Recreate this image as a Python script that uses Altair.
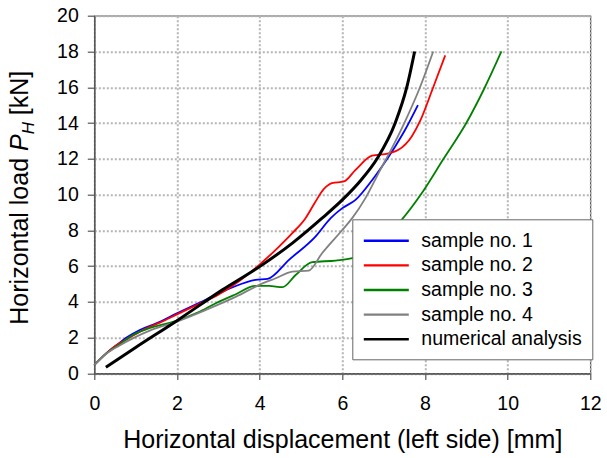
import altair as alt
import pandas as pd

# ---- data ----
s1_x = [0, 0.29, 0.55, 0.81, 1.1, 1.5, 2.0, 2.5, 2.94, 3.35, 3.9, 4.19, 4.71, 5.35, 5.72, 6.0, 6.32, 6.72, 6.96, 7.28, 7.52, 7.83]
s1_y = [0.47, 1.12, 1.6, 2.05, 2.43, 2.8, 3.36, 3.9, 4.39, 4.82, 5.23, 5.28, 6.35, 7.65, 8.68, 9.24, 9.7, 10.8, 11.57, 12.69, 13.62, 15.0]

s2_x = [0, 0.29, 0.55, 0.85, 1.2, 1.6, 2.0, 2.5, 3.0, 3.5, 3.99, 4.47, 4.79, 5.11, 5.35, 5.55, 5.75, 6.04, 6.32, 6.72, 7.12, 7.36, 7.68, 7.88, 8.2, 8.49]
s2_y = [0.47, 1.12, 1.6, 2.0, 2.45, 2.85, 3.3, 3.85, 4.4, 5.15, 6.07, 7.09, 7.84, 8.68, 9.6, 10.3, 10.64, 10.73, 11.38, 12.17, 12.3, 12.5, 13.25, 14.1, 16.0, 17.78]

s3_x = [0, 0.29, 0.6, 0.93, 1.3, 2.0, 2.5, 2.94, 3.4, 3.9, 4.23, 4.55, 4.87, 5.27, 5.84, 6.24, 6.8, 7.44, 7.9, 8.45, 9.0, 9.45, 9.85]
s3_y = [0.47, 1.12, 1.6, 2.15, 2.5, 2.95, 3.4, 3.92, 4.4, 4.89, 4.89, 4.82, 5.5, 6.22, 6.31, 6.44, 7.2, 8.6, 10.0, 12.0, 14.0, 16.0, 18.0]

s4_x = [0, 0.29, 0.6, 0.93, 1.4, 2.0, 2.7, 3.43, 3.99, 4.39, 4.79, 5.19, 5.51, 6.0, 6.24, 6.56, 6.9, 7.2, 7.5, 7.88, 8.2]
s4_y = [0.47, 1.1, 1.55, 1.96, 2.45, 2.9, 3.55, 4.29, 4.95, 5.32, 5.69, 5.75, 6.72, 8.02, 8.68, 9.8, 11.3, 12.6, 14.0, 16.0, 18.0]

num_x = [0.28, 1.0, 2.0, 3.1, 4.0, 4.8, 5.51, 6.0, 6.45, 6.84, 7.28, 7.56, 7.75]
num_y = [0.34, 1.45, 2.95, 4.67, 5.97, 7.3, 8.68, 9.7, 10.8, 12.0, 14.0, 16.0, 18.0]

series_names = ["sample no. 1", "sample no. 2", "sample no. 3", "sample no. 4", "numerical analysis"]
series_colors = ["#0000FF", "#FF0000", "#008000", "#808080", "#000000"]

x_ticks = [0, 2, 4, 6, 8, 10, 12]
y_ticks = [0, 2, 4, 6, 8, 10, 12, 14, 16, 18, 20]

rows = []
for name, xs, ys in zip(series_names,
                        [s1_x, s2_x, s3_x, s4_x, num_x],
                        [s1_y, s2_y, s3_y, s4_y, num_y]):
    for i, (xv, yv) in enumerate(zip(xs, ys)):
        rows.append({"series": name, "x": xv, "y": yv, "order": i})
df = pd.DataFrame(rows)

W = 496
H = 357.7
LEFT = 94.3
TOP = 15.7
FONT = "Liberation Sans"
TF = 25

lines = alt.Chart(df).mark_line(interpolate="monotone").encode(
    x=alt.X("x:Q", scale=alt.Scale(domain=[0, 12], nice=False),
            axis=alt.Axis(values=x_ticks, title="Horizontal displacement (left side) [mm]",
                          titleX=248, titleY=74.5, titleBaseline="alphabetic",
                          titleAlign="center", labelFlush=False)),
    y=alt.Y("y:Q", scale=alt.Scale(domain=[0, 20], nice=False),
            axis=alt.Axis(values=y_ticks, title=None, labelFlush=False)),
    color=alt.Color("series:N", sort=series_names,
                    scale=alt.Scale(domain=series_names, range=series_colors),
                    legend=alt.Legend(title=None)),
    strokeWidth=alt.condition(alt.datum.series == "numerical analysis",
                              alt.value(3.0), alt.value(1.8)),
    order="order:Q",
)

# y-axis title built from pieces (italic P with italic subscript H)
SUB = 17
w_main = 6.947 * TF
w_p = 0.667 * TF
w_h = 0.722 * SUB
w_sp = 0.278 * TF
w_end = 1.778 * TF
total = w_main + w_p + w_h + w_sp + w_end
y_start = 182 + total / 2
bx = -66.5

def piece(text, y, x, size, style="normal"):
    return alt.Chart(pd.DataFrame({"t": [text]})).mark_text(
        angle=270, align="left", baseline="alphabetic", font=FONT,
        fontSize=size, fontStyle=style, color="black"
    ).encode(text="t:N", x=alt.value(x), y=alt.value(y))

t1 = piece("Horizontal load", y_start, bx, TF)
t2 = piece("P", y_start - w_main, bx, TF, "italic")
t3 = piece("H", y_start - w_main - w_p, bx + 6, SUB, "italic")
t4 = piece("[kN]", y_start - w_main - w_p - w_h - w_sp, bx, TF)

chart = alt.layer(lines, t1, t2, t3, t4).properties(
    width=W, height=H,
    autosize=alt.AutoSizeParams(type="none"),
    padding={"left": LEFT, "top": TOP, "right": 607 - LEFT - W, "bottom": 458 - TOP - H},
).configure_view(
    stroke="#555555", strokeWidth=1.2
).configure_axis(
    labelFont=FONT, titleFont=FONT, labelFontSize=19.5, titleFontSize=TF,
    titleFontWeight="normal", labelColor="black", titleColor="black",
    domainColor="#555555", domainWidth=1.5, tickColor="#555555", tickWidth=1.2,
    grid=True, gridColor="#b5b5b5", gridDash=[2, 2], gridWidth=2,
).configure_axisX(
    tickSize=6, labelPadding=15,
).configure_axisY(
    tickSize=7, labelPadding=9,
).configure_legend(
    orient="none", legendX=258, legendY=203.6,
    fillColor="white", strokeColor="#666666", padding=10,
    symbolType="M-2.25,0H2.25", symbolSize=400, symbolStrokeWidth=2.4,
    symbolFillColor="transparent",
    labelFont=FONT, labelFontSize=19.5, labelColor="black", labelLimit=300,
    labelOffset=23.5, rowPadding=3.6, symbolOffset=12.5,
    cornerRadius=0,
)

chart.save("out.html", embed_options={"renderer": "svg", "actions": False})
